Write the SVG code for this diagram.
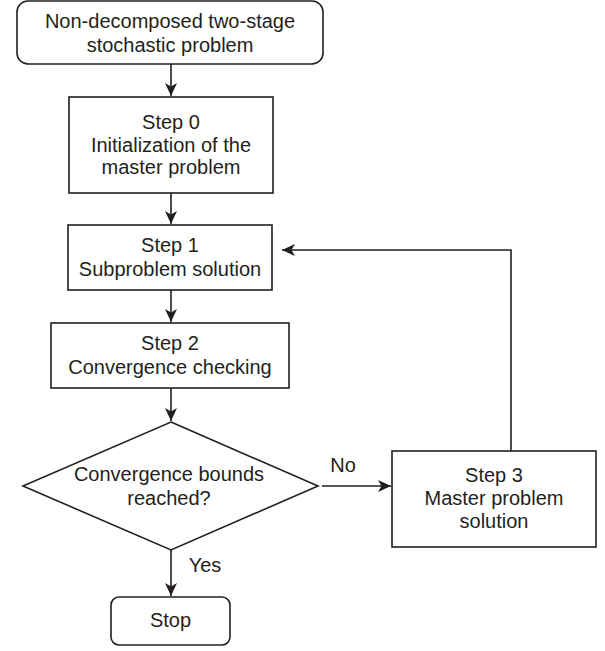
<svg xmlns="http://www.w3.org/2000/svg" width="605" height="651" viewBox="0 0 605 651">
<style>
.box{fill:#fff;stroke:#231f20;stroke-width:1.6}
.t{font-family:"Liberation Sans",Arial,sans-serif;font-size:20px;fill:#231f20;text-anchor:middle}
.c{fill:none;stroke:#231f20;stroke-width:1.6}
</style>
<defs>
<marker id="ah" markerUnits="userSpaceOnUse" markerWidth="14" markerHeight="12" refX="13" refY="6" orient="auto">
<path d="M0,0 L13,6 L0,12 L3.5,6 z" fill="#231f20"/>
</marker>
</defs>
<rect width="605" height="651" fill="#fff"/>
<g id="connectors">
<line class="c" x1="171" y1="64" x2="171" y2="96" marker-end="url(#ah)"/>
<line class="c" x1="171" y1="193" x2="171" y2="224" marker-end="url(#ah)"/>
<line class="c" x1="171" y1="290" x2="171" y2="322" marker-end="url(#ah)"/>
<line class="c" x1="171" y1="388" x2="171" y2="421" marker-end="url(#ah)"/>
<line class="c" x1="171" y1="550" x2="171" y2="596" marker-end="url(#ah)"/>
<line class="c" x1="322" y1="486" x2="391" y2="486" marker-end="url(#ah)"/>
<polyline class="c" points="511,451 511,250 282,250" marker-end="url(#ah)"/>
<text class="t" x="343" y="472">No</text>
<text class="t" x="205" y="572">Yes</text>
</g>
<g id="start">
<rect class="box" x="17" y="1" width="306" height="63" rx="11"/>
<text class="t" x="170" y="28">Non-decomposed two-stage</text>
<text class="t" x="170" y="52">stochastic problem</text>
</g>
<g id="step0">
<rect class="box" x="69" y="97" width="204" height="96"/>
<text class="t" x="171" y="129">Step 0</text>
<text class="t" x="171" y="152">Initialization of the</text>
<text class="t" x="171" y="174">master problem</text>
</g>
<g id="step1">
<rect class="box" x="68" y="225" width="204" height="65"/>
<text class="t" x="170" y="252">Step 1</text>
<text class="t" x="170" y="276">Subproblem solution</text>
</g>
<g id="step2">
<rect class="box" x="51" y="323" width="238" height="65"/>
<text class="t" x="170" y="350">Step 2</text>
<text class="t" x="170" y="374">Convergence checking</text>
</g>
<g id="decision">
<polygon class="box" points="171,422 318,486 171,550 23,486"/>
<text class="t" x="169" y="481">Convergence bounds</text>
<text class="t" x="169" y="505">reached?</text>
</g>
<g id="step3">
<rect class="box" x="392" y="451" width="204" height="96"/>
<text class="t" x="494" y="482">Step 3</text>
<text class="t" x="494" y="505">Master problem</text>
<text class="t" x="494" y="528">solution</text>
</g>
<g id="stop">
<rect class="box" x="111" y="597" width="119" height="48" rx="8"/>
<text class="t" x="170.5" y="627">Stop</text>
</g>
</svg>
